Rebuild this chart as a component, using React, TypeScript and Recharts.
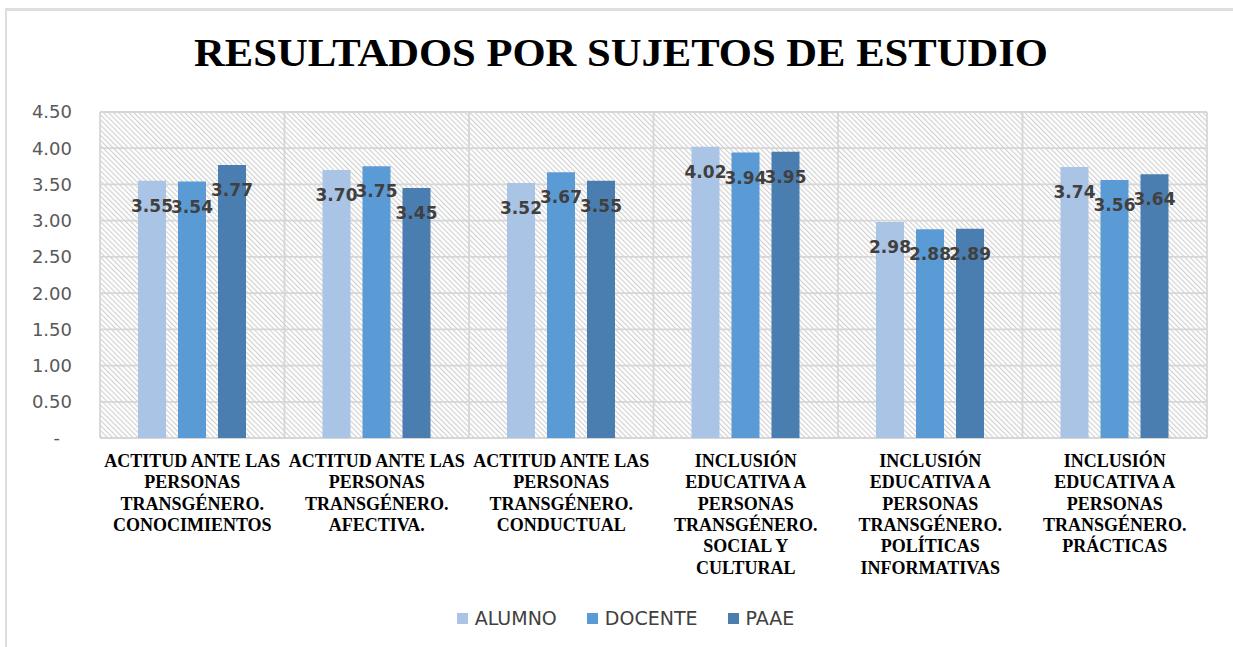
import React from "react";
import { BarChart, Bar, XAxis, YAxis, CartesianGrid, Legend, LabelList } from "recharts";

const categories = [
  "ACTITUD ANTE LAS\nPERSONAS\nTRANSGÉNERO.\nCONOCIMIENTOS",
  "ACTITUD ANTE LAS\nPERSONAS\nTRANSGÉNERO.\nAFECTIVA.",
  "ACTITUD ANTE LAS\nPERSONAS\nTRANSGÉNERO.\nCONDUCTUAL",
  "INCLUSIÓN\nEDUCATIVA A\nPERSONAS\nTRANSGÉNERO.\nSOCIAL Y\nCULTURAL",
  "INCLUSIÓN\nEDUCATIVA A\nPERSONAS\nTRANSGÉNERO.\nPOLÍTICAS\nINFORMATIVAS",
  "INCLUSIÓN\nEDUCATIVA A\nPERSONAS\nTRANSGÉNERO.\nPRÁCTICAS",
];

const alumno = [3.55, 3.7, 3.52, 4.02, 2.98, 3.74];
const docente = [3.54, 3.75, 3.67, 3.94, 2.88, 3.56];
const paae = [3.77, 3.45, 3.55, 3.95, 2.89, 3.64];

const yTicks = [0, 0.5, 1, 1.5, 2, 2.5, 3, 3.5, 4, 4.5];

const series = [
  { key: "alumno", name: "ALUMNO", color: "#a9c4e5" },
  { key: "docente", name: "DOCENTE", color: "#5b9bd5" },
  { key: "paae", name: "PAAE", color: "#4a7eb1" },
];

const data = categories.map((cat, i) => ({
  cat,
  alumno: alumno[i],
  docente: docente[i],
  paae: paae[i],
}));

function CategoryTick({ x, y, payload }: any) {
  const lines = String(payload.value).split("\n");
  return (
    <text
      x={x}
      y={y + 29}
      textAnchor="middle"
      fill="#000"
      fontFamily="'Liberation Serif', 'Times New Roman', serif"
      fontWeight="bold"
      fontSize={18}
    >
      {lines.map((l, i) => (
        <tspan key={i} x={x} dy={i === 0 ? 0 : 21.3}>
          {l}
        </tspan>
      ))}
    </text>
  );
}

function ValueTick({ x, y, payload }: any) {
  const v = payload.value as number;
  return (
    <text
      x={v === 0 ? x - 12 : x}
      y={y}
      dy="0.355em"
      textAnchor="end"
      fill="#595959"
      fontFamily="'DejaVu Sans', sans-serif"
      fontSize={18}
    >
      {v === 0 ? "-" : v.toFixed(2)}
    </text>
  );
}

function LegendContent() {
  return (
    <div
      style={{
        display: "flex",
        justifyContent: "center",
        alignItems: "center",
        height: 30,
        paddingLeft: 44,
        fontFamily: "'DejaVu Sans', sans-serif",
        fontSize: 19,
        color: "#404040",
      }}
    >
      {series.map((s) => (
        <div key={s.key} style={{ display: "flex", alignItems: "center", margin: "0 15px" }}>
          <span style={{ width: 11, height: 11, background: s.color, display: "inline-block", marginRight: 7 }} />
          <span>{s.name}</span>
        </div>
      ))}
    </div>
  );
}

export default function App() {
  return (
    <div style={{ position: "absolute", left: 0, top: 0, width: 1233, height: 647, background: "#fff", overflow: "hidden" }}>
      <svg width={0} height={0} style={{ position: "absolute" }}>
        <defs>
          <pattern id="hatch" width={3.6} height={3.6} patternUnits="userSpaceOnUse" patternTransform="rotate(-45)">
            <rect width={3.6} height={3.6} fill="#ffffff" />
            <line x1={0.6} y1={0} x2={0.6} y2={3.6} stroke="#d2d2d2" strokeWidth={1.2} />
          </pattern>
        </defs>
      </svg>
      <div
        style={{
          position: "absolute",
          left: 5,
          top: 7.5,
          width: 1240,
          height: 660,
          borderLeft: "2.5px solid #dedede",
          borderTop: "3px solid #dedede",
        }}
      />
      <div
        style={{
          position: "absolute",
          left: 0,
          width: 1242,
          top: 28,
          textAlign: "center",
          fontFamily: "'Liberation Serif', 'Times New Roman', serif",
          fontWeight: "bold",
          fontSize: 40,
          lineHeight: "50px",
          color: "#000",
          whiteSpace: "nowrap",
          transform: "scaleX(1.065)",
          transformOrigin: "621px 0",
        }}
      >
        RESULTADOS POR SUJETOS DE ESTUDIO
      </div>
      <div style={{ position: "absolute", left: 0, top: 0 }}>
        <BarChart
          width={1233}
          height={647}
          data={data}
          margin={{ top: 112, right: 26, left: 0, bottom: 14 }}
          barSize={28}
          barGap={12}
        >
          <CartesianGrid
            fill="url(#hatch)"
            stroke="#d6d6d6"
            strokeWidth={1.8}
            verticalCoordinatesGenerator={({ offset }: any) =>
              categories.map((_, i) => offset.left + (i * offset.width) / categories.length).concat(offset.left + offset.width)
            }
          />
          <XAxis
            dataKey="cat"
            axisLine={false}
            tickLine={false}
            tickSize={0}
            tickMargin={0}
            interval={0}
            height={165}
            tick={<CategoryTick />}
          />
          <YAxis
            domain={[0, 4.5]}
            ticks={yTicks}
            axisLine={false}
            tickLine={false}
            tickSize={0}
            tickMargin={28}
            width={100}
            interval={0}
            tick={<ValueTick />}
          />
          <Legend verticalAlign="bottom" height={30} content={<LegendContent />} />
          {series.map((s) => (
            <Bar key={s.key} dataKey={s.key} name={s.name} fill={s.color} isAnimationActive={false}>
              <LabelList
                dataKey={s.key}
                position="insideTop"
                offset={19}
                fill="#404040"
                fontFamily="'DejaVu Sans', sans-serif"
                fontWeight="bold"
                fontSize={17}
                formatter={(v: any) => Number(v).toFixed(2)}
              />
            </Bar>
          ))}
        </BarChart>
      </div>
    </div>
  );
}
